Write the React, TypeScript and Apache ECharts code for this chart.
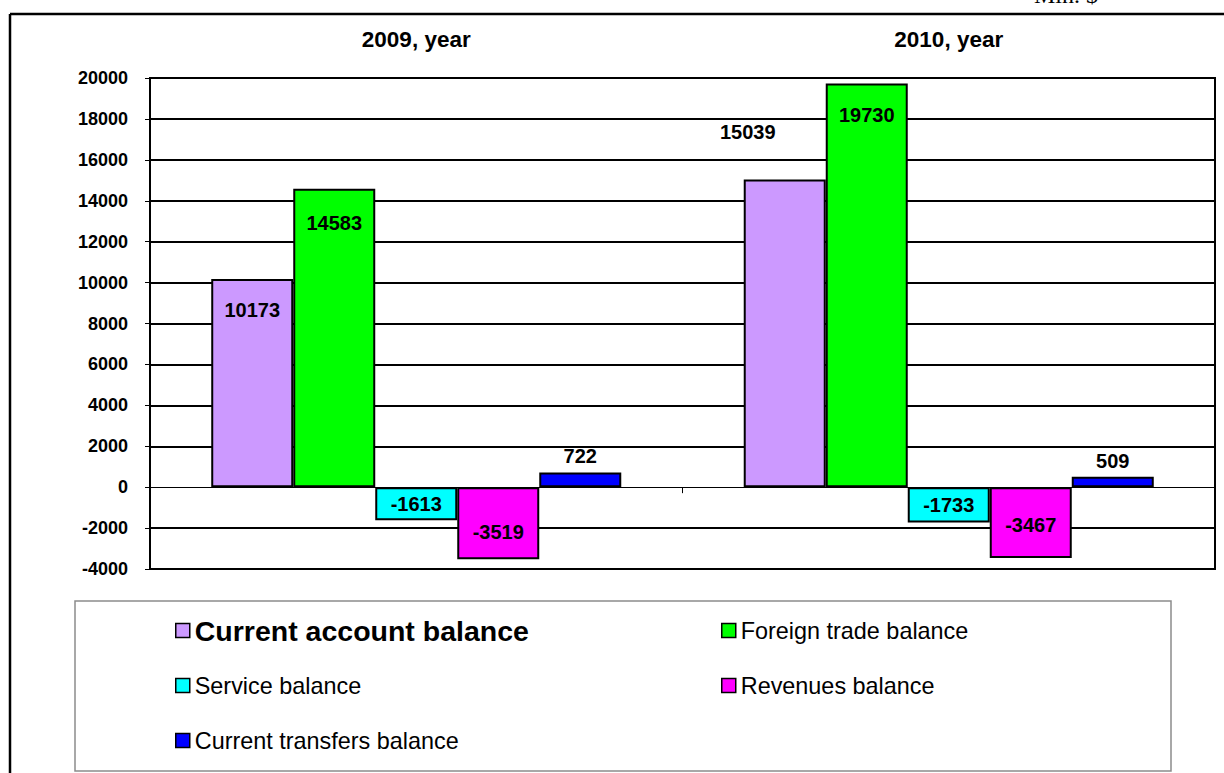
import React, { useEffect, useRef } from "react";
import * as echarts from "echarts";

const categories = ["2009, year", "2010, year"];
const seriesNames = [
  "Current account balance",
  "Foreign trade balance",
  "Service balance",
  "Revenues balance",
  "Current transfers balance",
];
const currentAccount = [10173, 15039];
const foreignTrade = [14583, 19730];
const serviceBalance = [-1613, -1733];
const revenuesBalance = [-3519, -3467];
const currentTransfers = [722, 509];
const seriesValues = [currentAccount, foreignTrade, serviceBalance, revenuesBalance, currentTransfers];
const colors = ["#CC99FF", "#00FF00", "#00FFFF", "#FF00FF", "#0000FF"];
const yTicks = { min: -4000, max: 20000, interval: 2000 };

const FONT = "'Liberation Sans', Arial, sans-serif";

// label placement per series / category
const labelCfg: any[][] = [
  [
    { position: "insideTop", distance: 21 },
    { position: "top", distance: 5, offset: [-37, -32] },
  ],
  [
    { position: "insideTop", distance: 24 },
    { position: "insideTop", distance: 21 },
  ],
  [{ position: "inside" }, { position: "inside" }],
  [{ position: "inside", offset: [0, 9] }, { position: "inside", offset: [0, 2] }],
  [
    { position: "top", distance: 6 },
    { position: "top", distance: 6 },
  ],
];

export default function App() {
  const ref = useRef<HTMLDivElement>(null);
  useEffect(() => {
    if (!ref.current) return;
    const chart = echarts.init(ref.current, null, { renderer: "svg" });
    const nLines = (yTicks.max - yTicks.min) / yTicks.interval + 1;
    const splitColors: string[] = [];
    for (let i = 0; i < nLines; i++) {
      splitColors.push(yTicks.min + i * yTicks.interval === 0 ? "transparent" : "#000");
    }
    const legendRows = [
      { left: 175, top: 616 },
      { left: 721, top: 619 },
      { left: 175, top: 674 },
      { left: 721, top: 674 },
      { left: 175, top: 729 },
    ];
    const legends = seriesNames.map((name, i) => ({
      data: [name],
      left: legendRows[i].left,
      top: legendRows[i].top,
      padding: 0,
      icon: "rect",
      itemWidth: 14,
      itemHeight: 14,
      selectedMode: false,
      itemStyle: { borderColor: "#000", borderWidth: 1.5 },
      textStyle: {
        fontFamily: FONT,
        color: "#000",
        fontSize: i === 0 ? 28.5 : 23.4,
        fontWeight: i === 0 ? "bold" : "normal",
      },
    }));
    chart.setOption({
      animation: false,
      backgroundColor: "#fff",
      grid: {
        left: 150,
        right: 9,
        top: 78,
        bottom: 204,
        show: true,
        borderColor: "#000",
        borderWidth: 2,
        backgroundColor: "transparent",
      },
      legend: legends,
      xAxis: [
        {
          type: "category",
          data: categories,
          position: "bottom",
          axisLine: { onZero: true, lineStyle: { color: "#000", width: 1 } },
          axisTick: { show: true, length: 6, lineStyle: { color: "#000", width: 1 } },
          axisLabel: { show: false },
          splitLine: { show: false },
        },
        {
          type: "category",
          data: categories,
          position: "top",
          axisLine: { show: false },
          axisTick: { show: false },
          axisLabel: {
            show: true,
            margin: 27,
            fontFamily: FONT,
            fontWeight: "bold",
            fontSize: 22.5,
            color: "#000",
          },
        },
      ],
      yAxis: {
        type: "value",
        min: yTicks.min,
        max: yTicks.max,
        interval: yTicks.interval,
        axisLine: { show: true, lineStyle: { color: "#000", width: 2 } },
        axisTick: { show: true, length: 5, lineStyle: { color: "#000", width: 1 } },
        axisLabel: {
          margin: 22,
          fontFamily: FONT,
          fontWeight: "bold",
          fontSize: 18,
          color: "#000",
          formatter: (v: number) => String(v),
        },
        splitLine: { show: true, lineStyle: { color: splitColors, width: 2 } },
      },
      series: seriesNames.map((name, si) => ({
        name,
        type: "bar",
        xAxisIndex: 0,
        barGap: "0%",
        barCategoryGap: "23%",
        itemStyle: { color: colors[si], borderColor: "#000", borderWidth: 2 },
        label: {
          show: true,
          fontFamily: FONT,
          fontWeight: "bold",
          fontSize: 20,
          color: "#000",
        },
        data: seriesValues[si].map((v, ci) => ({
          value: v,
          label: { show: true, ...labelCfg[si][ci] },
        })),
      })),
      graphic: [
        {
          type: "line",
          shape: { x1: 10, y1: 14, x2: 1230, y2: 14 },
          style: { stroke: "#000", lineWidth: 2.5 },
        },
        {
          type: "line",
          shape: { x1: 10, y1: 14, x2: 10, y2: 780 },
          style: { stroke: "#000", lineWidth: 2.5 },
        },
        {
          type: "rect",
          shape: { x: 75, y: 601, width: 1096, height: 170 },
          style: { fill: "none", stroke: "#8c8c8c", lineWidth: 1.5 },
        },
        {
          type: "text",
          x: 1098,
          y: 7,
          style: {
            text: "Mln. $",
            fontFamily: "'Liberation Serif', 'Times New Roman', serif",
            fontSize: 24,
            fill: "#000",
            textAlign: "right",
            textVerticalAlign: "bottom",
          },
        },
      ],
    });
    return () => chart.dispose();
  }, []);
  return (
    <div
      ref={ref}
      style={{ position: "absolute", left: 0, top: 0, width: 1224, height: 773 }}
    />
  );
}
